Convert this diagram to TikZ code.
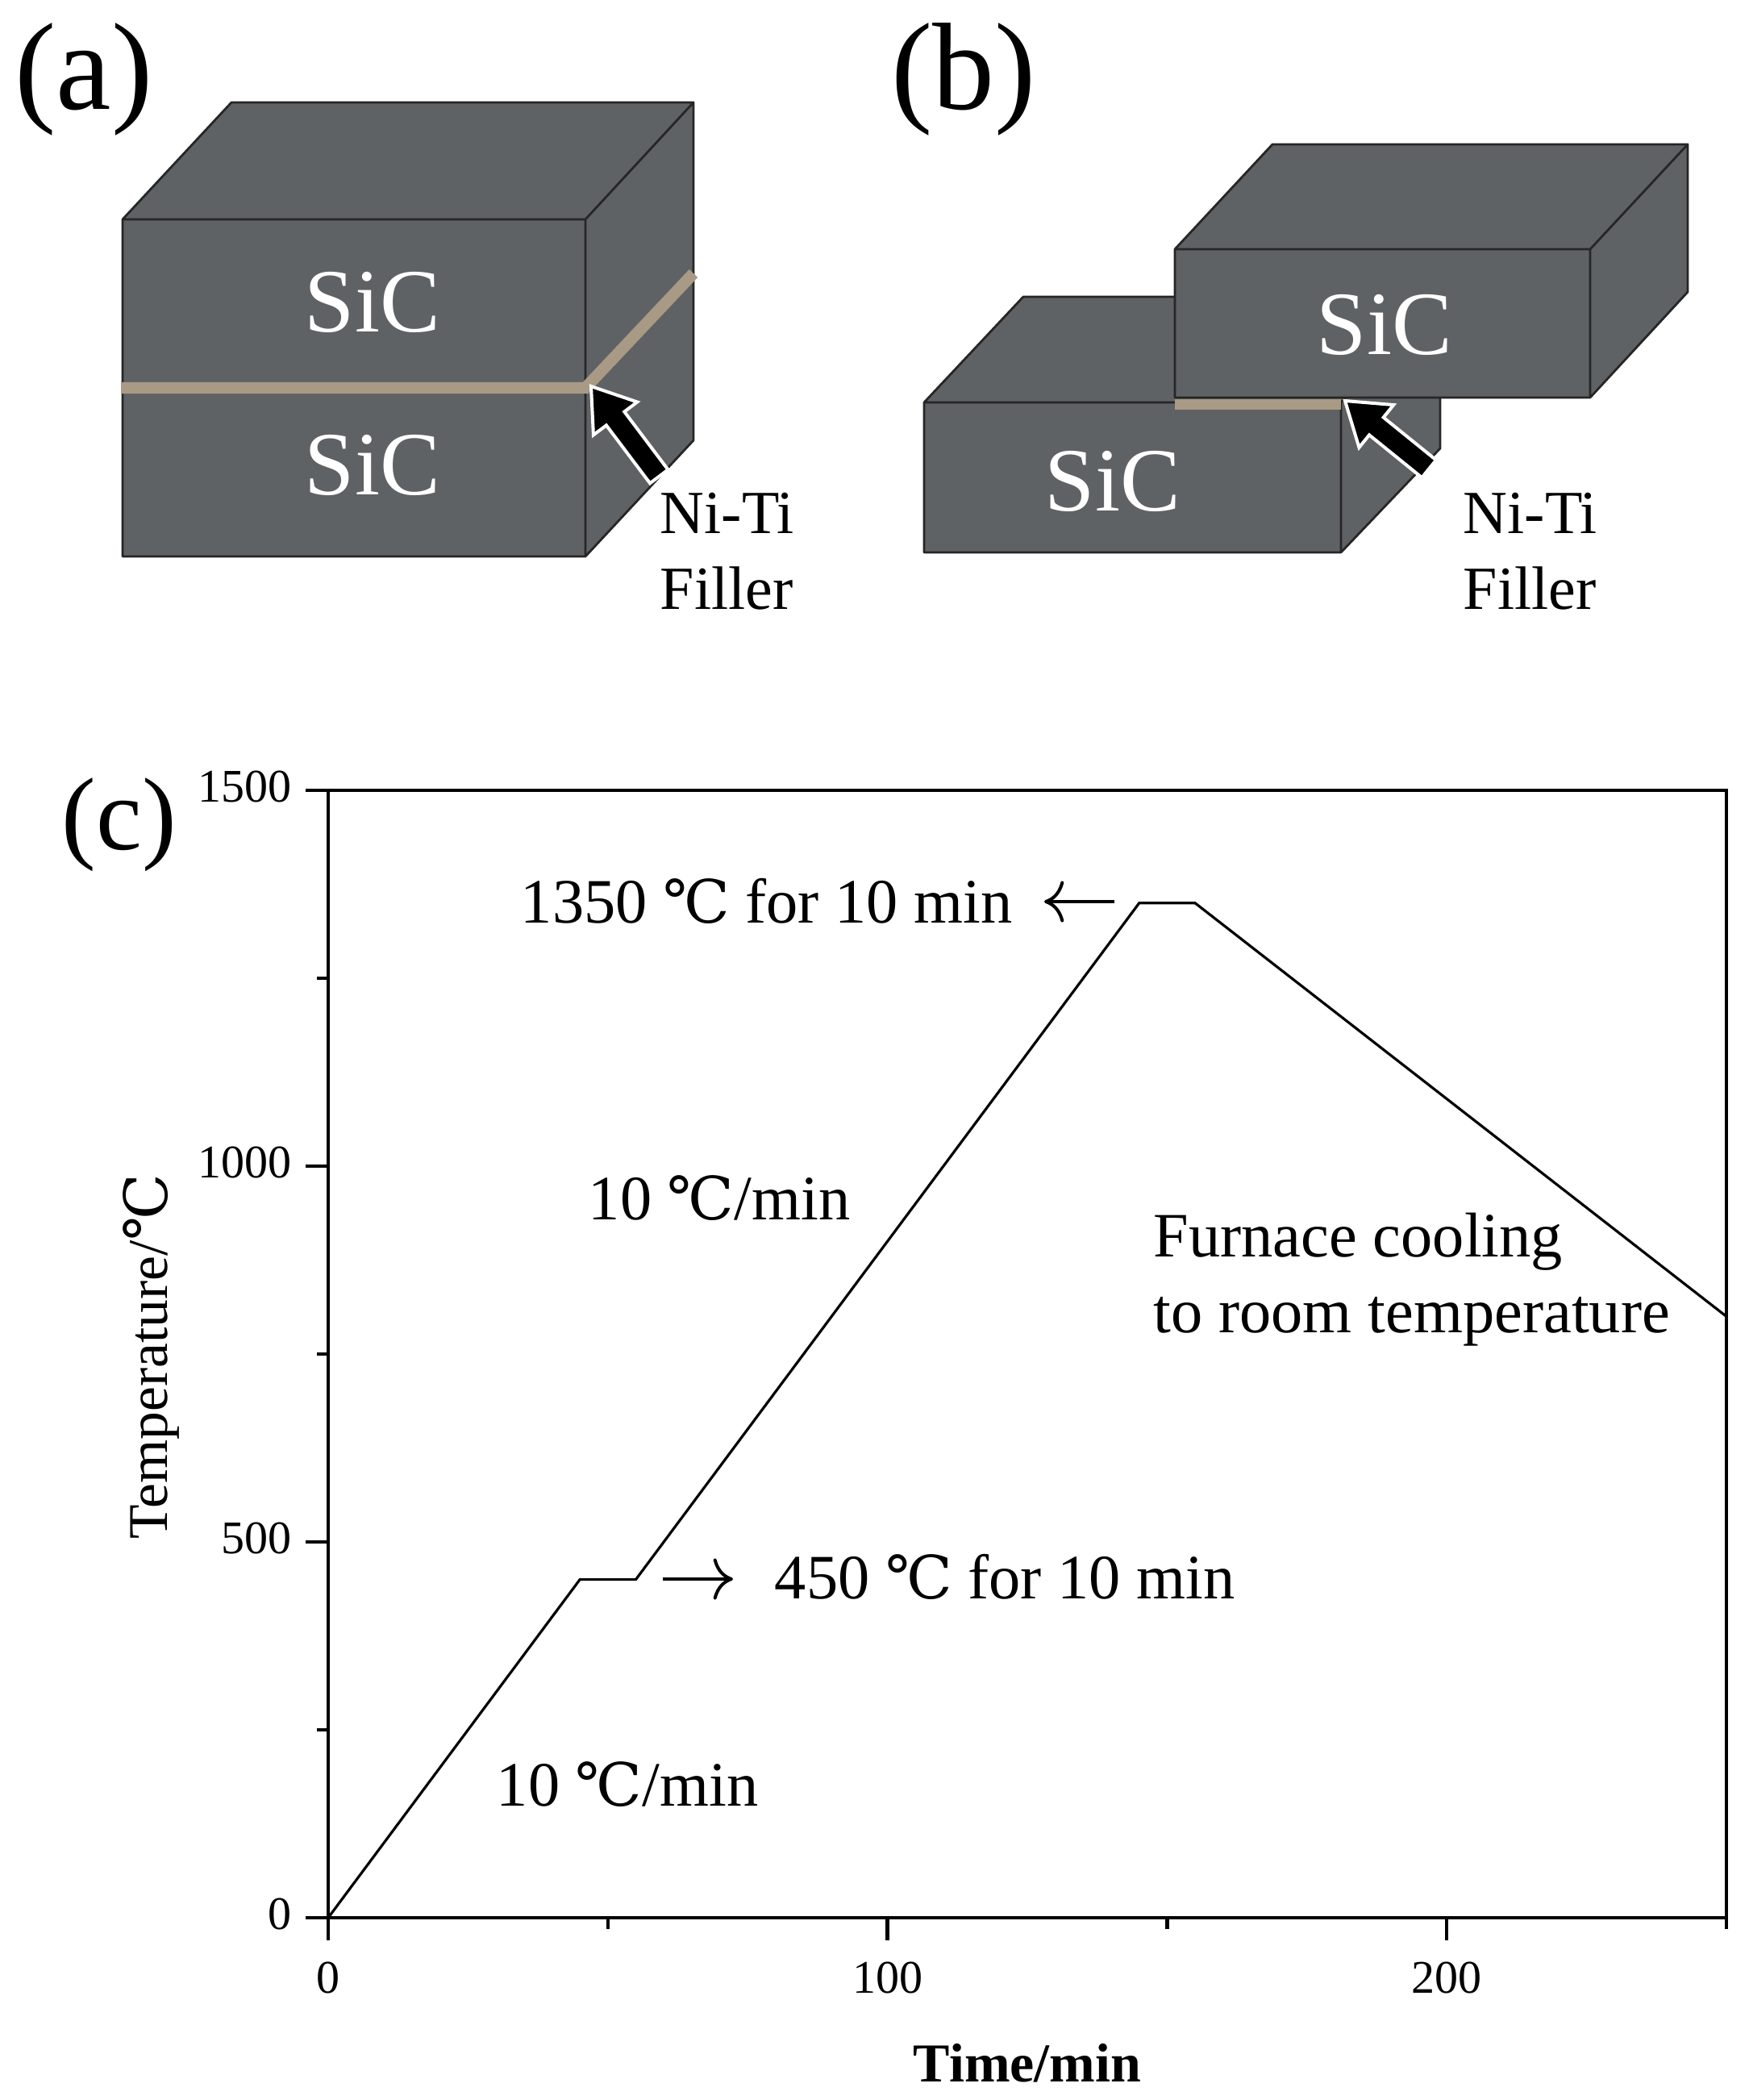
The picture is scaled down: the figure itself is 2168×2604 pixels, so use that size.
\documentclass[tikz,border=0pt]{standalone}
\usepackage{fontspec}
\setmainfont{Liberation Serif}
\newfontfamily\degfont{DejaVu Serif}
\usepackage{tikz}
\usetikzlibrary{arrows.meta}
\definecolor{sicgray}{HTML}{5F6264}
\definecolor{fillertan}{HTML}{A89A85}
\newcommand{\degc}{{\degfont\fontsize{18.5}{19}\selectfont ℃}}
\newcommand{\sicblock}[8]{
	(#1, #2) -- (#3, #2) -- (#3, #4) -- (#1, #4) -- cycle
	(#1, #2) -- (#5, #6) -- (#7, #6) -- (#3, #2) -- cycle
	(#3, #2) -- (#7, #6) -- (#7, #8) -- (#3, #4) -- cycle;
	}
\newcommand{\blockarrow}[4]{
	\draw[white, fill=black, line width=1pt, shift={(#1, #2)}, rotate=#3]
	(0, 0) -- (50, -34) -- (50, -14) -- (#4, -14) -- (#4, 14) -- (50, 14) -- (50, 34) -- cycle;
	}
\tikzset{
	sicbox/.style={draw=black!85, fill=sicgray, line width=0.7pt, line join=round},
	fillerband/.style={fillertan, line width=3.6pt},
	sictext/.style={white, font=\fontsize{28}{30}\selectfont},
	paneltext/.style={anchor=base, inner sep=0pt, font=\fontsize{38.5}{40}\selectfont},
	fillertext/.style={anchor=base west, inner sep=0pt, font=\fontsize{19}{22}\selectfont},
	plottext/.style={anchor=base west, inner sep=0pt, font=\fontsize{19.6}{22}\selectfont},
	ticktext/.style={inner sep=0pt, font=\fontsize{14.5}{16}\selectfont},
	axisline/.style={line width=1.1pt},
}

\begin{document}
\begin{tikzpicture}[x=0.25pt, y=-0.25pt]
	\useasboundingbox (0, 0) rectangle (2168, 2604);

	% panel a
	\node[paneltext] (la) at (104, 135) {(a)};
	\draw[sicbox]\sicblock{152}{272}{726}{690}{287}{127}{860}{546}
	\draw[fillerband] (150, 481) -- (726, 481) -- (860, 339);
	\node[sictext] (sica) at (462, 375) {SiC};
	\node[sictext] (sicb) at (462, 577) {SiC};
	\blockarrow{733}{479}{-53}{140}
	\node[fillertext] (nia) at (818, 661) {Ni-Ti};
	\node[fillertext] (fia) at (818, 755) {Filler};

	% panel b
	\node[paneltext] (lb) at (1195, 135) {(b)};
	\draw[sicbox]\sicblock{1146}{499}{1663}{685}{1269}{368}{1786}{556}
	\draw[sicbox]\sicblock{1457}{309}{1972}{493}{1578}{179}{2093}{362}
	\fill[fillertan] (1457, 495) rectangle (1663, 508);
	\node[sictext] (sicc) at (1717, 403) {SiC};
	\node[sictext] (sicd) at (1380, 597) {SiC};
	\blockarrow{1668}{497}{-39}{134}
	\node[fillertext] (nib) at (1814, 661) {Ni-Ti};
	\node[fillertext] (fib) at (1814, 755) {Filler};

	% panel c
	\node[paneltext, font=\fontsize{32}{34}\selectfont] (lc) at (148, 1053) {(c)};
	\begin{scope}[shift={(407, 2378)}, x=1.734pt, y=0.233pt]
		\draw[axisline] (0, 0) rectangle (250, 1500);
		\foreach \xv in {0, 100, 200} {
			\draw[axisline] (\xv, 0) -- ++(0, -7pt);
			\node[ticktext] (xt\xv) at (\xv, -80) {\xv};
		}
		\foreach \xv in {50, 150, 250} {
			\draw[axisline] (\xv, 0) -- ++(0, -3.5pt);
		}
		\foreach \yv in {0, 500, 1000, 1500} {
			\draw[axisline] (0, \yv) -- ++(-7pt, 0);
			\node[ticktext, anchor=east] (yt\yv) at (-6.5, \yv+5) {\yv};
		}
		\foreach \yv in {250, 750, 1250} {
			\draw[axisline] (0, \yv) -- ++(-3.5pt, 0);
		}
		\draw[line width=0.8pt, line join=miter] (0, 0) -- (45, 450) -- (55, 450) -- (145, 1350) -- (155, 1350) -- (250, 800);
	\end{scope}

	\coordinate (ha) at (1382, 1118);
	\coordinate (hb) at (1295, 1118);
	\coordinate (ka) at (822, 1958);
	\coordinate (kb) at (909, 1958);
	\draw[-{>[scale=1.6]}, line width=1pt] (ha) -- (hb);
	\draw[-{>[scale=1.6]}, line width=1pt] (ka) -- (kb);

	\node[plottext] (hold) at (645, 1144) {1350 \degc{} for 10 min};
	\node[plottext] (holdb) at (960, 1982) {450 \degc{} for 10 min};
	\node[plottext] (ratea) at (729, 1512) {10 \degc{}/min};
	\node[plottext] (rateb) at (615, 2239) {10 \degc{}/min};
	\node[plottext] (cool) at (1430, 1558) {Furnace cooling};
	\node[plottext] (coolb) at (1430, 1652) {to room temperature};

	\node[font=\fontsize{17}{20}\selectfont\bfseries] (xtitle) at (1274, 2558) {Time/min};
	\node[rotate=90, font=\fontsize{17.4}{20}\selectfont] (ytitle) at (187, 1682) {Temperature/\degc};

\end{tikzpicture}
\end{document}
